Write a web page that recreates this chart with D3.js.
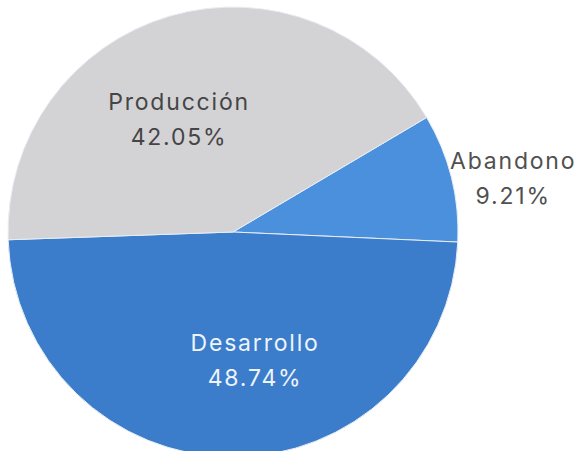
<!DOCTYPE html>
<html>
<head>
<meta charset="utf-8">
<script src="https://cdn.jsdelivr.net/npm/d3@7"></script>
<style>
  html, body { margin: 0; padding: 0; background: #ffffff; }
  svg { display: block; }
</style>
</head>
<body>
<svg id="chart" width="586" height="451"></svg>
<script>
// Slice data, in drawing order (clockwise)
const categories = ["Abandono", "Desarrollo", "Producción"];
const shares = [9.21, 48.74, 42.05];
const percentLabels = ["9.21%", "48.74%", "42.05%"];

const svg = d3.select("#chart");
const cx = 233, cy = 232, radius = 225;

const color = d3.scaleOrdinal()
  .domain(categories)
  .range(["#4a90dc", "#3b7dca", "#d3d3d5"]);

const startDeg = 59.4;
const pie = d3.pie()
  .sort(null)
  .value(d => d.value)
  .startAngle(startDeg * Math.PI / 180)
  .endAngle((startDeg + 360) * Math.PI / 180);

const data = categories.map((c, i) => ({ name: c, value: shares[i], label: percentLabels[i] }));
const arcs = pie(data);

const arc = d3.arc().innerRadius(0).outerRadius(radius);

const g = svg.append("g").attr("transform", `translate(${cx},${cy})`);

g.selectAll("path.slice")
  .data(arcs)
  .join("path")
  .attr("class", "slice")
  .attr("d", arc)
  .attr("fill", d => color(d.data.name))
  .attr("stroke", "#e8eef6")
  .attr("stroke-width", 1);

// Label placement: polar offset from the slice centroid angle
const labelLayout = {
  "Abandono":   { dAngle: 4.6,   r: 284, fill: "#505050" },
  "Desarrollo": { dAngle: -9.5,  r: 138, fill: "#eef4fb" },
  "Producción": { dAngle: -10.8, r: 118.5, fill: "#454545" }
};

const labels = g.selectAll("g.label")
  .data(arcs)
  .join("g")
  .attr("class", "label")
  .attr("transform", d => {
    const L = labelLayout[d.data.name];
    const a = (d.startAngle + d.endAngle) / 2 + L.dAngle * Math.PI / 180;
    return `translate(${L.r * Math.sin(a)},${-L.r * Math.cos(a)})`;
  });

const textStyle = sel => sel
  .attr("text-anchor", "middle")
  .attr("font-family", "Inter, 'Noto Sans', sans-serif")
  .attr("font-size", 23)
  .attr("letter-spacing", "1.8px")
  .attr("fill", d => labelLayout[d.data.name].fill);

labels.append("text")
  .call(textStyle)
  .attr("y", -17)
  .text(d => d.data.name);

labels.append("text")
  .call(textStyle)
  .attr("y", 18)
  .text(d => d.data.label);
</script>
</body>
</html>
